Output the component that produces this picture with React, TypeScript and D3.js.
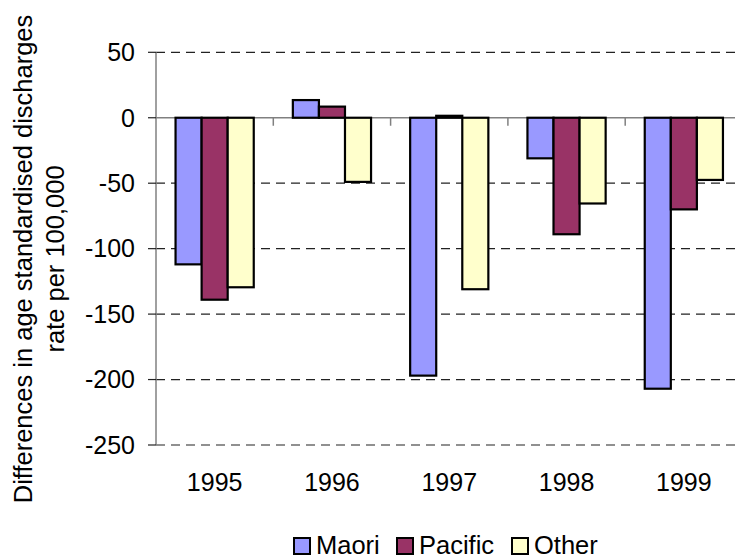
import React from "react";
import * as d3 from "d3";

const years = ["1995", "1996", "1997", "1998", "1999"];
const seriesNames = ["Maori", "Pacific", "Other"];
const maori = [-112, 13.5, -197, -31, -207];
const pacific = [-139, 8.5, 1.5, -89, -70];
const other = [-129.5, -49, -131, -65.5, -47.5];
const yTicks = [50, 0, -50, -100, -150, -200, -250];
const colors = ["#9999FF", "#993366", "#FFFFCC"];
const yTitle = ["Differences in age standardised discharges", "rate per 100,000"];

const W = 735;
const H = 558;
const FONT = "'Liberation Sans', Arial, sans-serif";

export default function App() {
  const values = [maori, pacific, other];
  const x0 = d3.scaleBand<string>().domain(years).range([156, 742.5]).padding(0);
  const x1 = d3
    .scaleBand<string>()
    .domain(seriesNames)
    .range([0, x0.bandwidth()])
    .paddingInner(0)
    .paddingOuter(0.75);
  const y = d3.scaleLinear().domain([-250, 50]).range([445, 52.3]);
  const y0 = y(0);

  const legendX = [294, 397, 512];

  return (
    <svg
      width={W}
      height={H}
      style={{ position: "absolute", left: 0, top: 0, display: "block", background: "#fff" }}
      fontFamily={FONT}
    >
      {/* gridlines */}
      {yTicks
        .filter((t) => t !== 0)
        .map((t) => (
          <line
            key={"g" + t}
            x1={156}
            x2={742.5}
            y1={y(t)}
            y2={y(t)}
            stroke="#222"
            strokeWidth={1.2}
            strokeDasharray="9,6"
          />
        ))}
      {/* y axis */}
      <line x1={156} x2={156} y1={y(50)} y2={y(-250)} stroke="#808080" strokeWidth={1.5} />
      {yTicks.map((t) => (
        <g key={"t" + t}>
          <line x1={148} x2={156} y1={y(t)} y2={y(t)} stroke="#222" strokeWidth={1.2} />
          <text
            x={135}
            y={y(t)}
            dy="0.35em"
            textAnchor="end"
            fontSize={25}
            fill="#000"
          >
            {t}
          </text>
        </g>
      ))}
      {/* zero axis */}
      <line x1={156} x2={742.5} y1={y0} y2={y0} stroke="#808080" strokeWidth={1.5} />
      {years.map((yr, i) =>
        i === 0 ? null : (
          <line
            key={"ct" + yr}
            x1={x0(yr)!}
            x2={x0(yr)!}
            y1={y0}
            y2={y0 + 8}
            stroke="#808080"
            strokeWidth={1.5}
          />
        )
      )}
      {/* bars */}
      {years.map((yr, i) => (
        <g key={"b" + yr} transform={`translate(${x0(yr)},0)`}>
          {seriesNames.map((s, j) => {
            const v = values[j][i];
            const top = Math.min(y(v), y0);
            const h = Math.abs(y(v) - y0);
            return (
              <rect
                key={s}
                x={x1(s)!}
                y={top}
                width={x1.bandwidth()}
                height={h}
                fill={colors[j]}
                stroke="#000"
                strokeWidth={2.2}
              />
            );
          })}
        </g>
      ))}
      {/* x labels */}
      {years.map((yr) => (
        <text
          key={"xl" + yr}
          x={x0(yr)! + x0.bandwidth() / 2}
          y={491}
          textAnchor="middle"
          fontSize={25}
          fill="#000"
        >
          {yr}
        </text>
      ))}
      {/* y title */}
      <g transform="translate(0,259)">
        <text transform="translate(32,0) rotate(-90)" textAnchor="middle" fontSize={25.5} fill="#000">
          {yTitle[0]}
        </text>
        <text transform="translate(64,0) rotate(-90)" textAnchor="middle" fontSize={25.5} fill="#000">
          {yTitle[1]}
        </text>
      </g>
      {/* legend */}
      {seriesNames.map((s, j) => (
        <g key={"lg" + s}>
          <rect
            x={legendX[j]}
            y={538}
            width={16}
            height={16}
            fill={colors[j]}
            stroke="#000"
            strokeWidth={2}
          />
          <text x={legendX[j] + 22} y={554} fontSize={25.5} fill="#000">
            {s}
          </text>
        </g>
      ))}
    </svg>
  );
}
